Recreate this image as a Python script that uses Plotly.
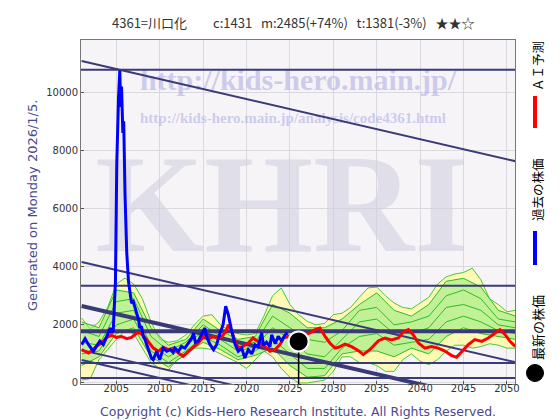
import plotly.graph_objects as go

# ---------------- data ----------------
price_years = [2001.0, 2001.4, 2001.8, 2002.35, 2002.7, 2003.1, 2003.5, 2003.9, 2004.3, 2004.5, 2004.65,
               2004.9, 2005.05, 2005.25, 2005.4, 2005.5, 2005.6, 2005.75, 2005.85, 2006.0, 2006.2, 2006.4,
               2006.6, 2006.75, 2006.95, 2007.15, 2007.35, 2007.55, 2007.7, 2007.9, 2008.1, 2008.3, 2008.5,
               2008.7, 2008.9, 2009.05, 2009.25, 2009.45, 2009.65, 2009.85, 2010.0, 2010.2, 2010.4, 2010.8,
               2011.2, 2011.55, 2011.75, 2012.15, 2012.5, 2012.9, 2013.3, 2013.7, 2013.9, 2014.1, 2014.45,
               2014.85, 2015.2, 2015.4, 2015.8, 2016.2, 2016.55, 2016.95, 2017.3, 2017.6, 2017.75, 2017.9,
               2018.3, 2018.7, 2019.05, 2019.45, 2019.8, 2020.2, 2020.6, 2021.0, 2021.35, 2021.75, 2021.95,
               2022.3, 2022.7, 2022.9, 2023.3, 2023.65, 2024.05, 2024.45, 2024.75]
price_values = [1318, 1520, 1318, 1090, 1260, 1440, 1318, 1605, 1890, 1720, 1835,
                3500, 7500, 9800, 10750, 9500, 10200, 8600, 9000, 6500, 4500, 3500,
                3000, 2750, 2800, 2580, 2350, 2200, 1890, 1950, 1600, 1500, 1318,
                1150, 975, 850, 800, 950, 1090, 900, 800, 1000, 1200, 1090,
                1150, 1050, 1200, 1090, 1260, 1200, 1376, 1548, 1720, 1400, 1450,
                1660, 1890, 1600, 1318, 1145, 1318, 1720, 2005, 2640, 2500, 2350,
                1778, 1318, 1090, 1200, 860, 1150, 1000, 1318, 1250, 1720, 1300,
                1400, 1250, 1660, 1350, 1605, 1450, 1660, 1720]

ai_years = [2001.0, 2001.8, 2002.15, 2002.7, 2003.3, 2003.9, 2004.45, 2005.0, 2005.6, 2006.2, 2006.75,
            2007.35, 2007.7, 2008.1, 2008.5, 2008.9, 2009.25, 2009.85, 2010.4, 2011.0, 2011.55, 2012.15,
            2012.7, 2013.3, 2013.85, 2014.45, 2015.0, 2015.6, 2016.2, 2016.75, 2017.3, 2017.7, 2017.9,
            2018.3, 2018.7, 2019.05, 2019.6, 2020.2, 2020.75, 2021.35, 2022.1, 2022.7, 2023.3, 2023.85,
            2024.25, 2024.8, 2025.5, 2026.3, 2027.3, 2027.9, 2028.45, 2029.05, 2029.6, 2030.2, 2030.6,
            2031.35, 2032.1, 2032.9, 2033.45, 2034.2, 2035.2, 2035.95, 2036.7, 2037.5, 2038.05, 2038.65,
            2039.2, 2039.8, 2040.55, 2041.3, 2042.1, 2042.85, 2043.6, 2044.2, 2044.8, 2045.55, 2046.3,
            2047.1, 2047.85, 2048.6, 2049.2, 2049.8, 2050.35, 2050.95]
ai_values = [1145, 1030, 1100, 1260, 1376, 1570, 1640, 1570, 1600, 1525, 1570,
             1720, 1720, 1640, 1490, 1318, 1203, 1090, 1230, 1150, 1200, 1030,
             918, 1090, 1230, 1376, 1570, 1520, 1600, 1520, 1640, 1835, 2005,
             1778, 1433, 1203, 1260, 1376, 1548, 1430, 1260, 1090, 1150, 1318,
             1548, 1600, 1650, 1600, 1720, 1835, 1890, 1605, 1376, 1200, 1228,
             1340, 1250, 1112, 975, 1145, 1456, 1548, 1480, 1548, 1755, 1835,
             1660, 1376, 1200, 1250, 1200, 1100, 950, 884, 1090, 1318, 1490,
             1430, 1548, 1720, 1835, 1660, 1433, 1260]

latest_year = [2026.0]
latest_price = [1431]

band_years = list(range(2001, 2052))
band_upper = [2236, 1850, 2100, 2600, 3400, 3610, 3400, 2900, 2100, 1500, 1400, 1450, 1650, 2000, 2300,
              2350, 2000, 1800, 1700, 1650, 1700, 2300, 3000, 3270, 2700, 2350, 2120, 2000, 2050, 2350,
              2400, 2600, 2950, 3270, 3300, 3000, 2750, 2600, 2550, 2750, 2950, 3400, 3650, 3750, 3800,
              3950, 3550, 2900, 2700, 2450, 2500]
band_lower = [100, 150, 800, 1150, 1500, 1800, 1700, 1200, 700, 500, 450, 800, 950, 1200, 1200,
              1150, 1000, 850, 700, 500, 800, 1100, 900, 500, 200, 0, 0, 50, 100, 400,
              900, 900, 700, 700, 600, 400, 400, 800, 1000, 750, 630, 800, 1100, 1300, 1300,
              1200, 1250, 1350, 1300, 1200, 1200]

sim_years = list(range(2001, 2052, 2))
sim_1 = [2100, 1900, 3200, 3100, 1900, 1300, 1500, 2200, 1800, 1500, 1600, 2700, 2400, 1900, 1900,
         2200, 2700, 3100, 2500, 2300, 2700, 3500, 3600, 3300, 2500, 2300]
sim_2 = [1800, 1600, 2800, 2900, 1600, 1100, 1400, 2000, 1600, 1300, 1400, 2300, 1900, 1500, 1400,
         1800, 2500, 2600, 2000, 2100, 2300, 3000, 3200, 2900, 2200, 2100]
sim_3 = [1400, 1300, 2400, 2500, 1300, 900, 1250, 1800, 1500, 1100, 1250, 1900, 1500, 1000, 900,
         1500, 2100, 2200, 1700, 1700, 1900, 2600, 2700, 2500, 2000, 1900]
sim_4 = [1000, 1100, 2000, 2200, 1100, 700, 1100, 1600, 1300, 900, 1100, 1500, 1000, 500, 500,
         1200, 1600, 1700, 1300, 1400, 1500, 2100, 2300, 2100, 1800, 1700]
sim_5 = [600, 900, 1700, 1900, 900, 550, 1000, 1400, 1150, 800, 950, 1200, 600, 200, 250,
         1000, 1100, 1100, 900, 1200, 1000, 1600, 1900, 1700, 1600, 1500]

trend_start_year = 2001
trend_end_year = 2051
trend_slope = -69.0          # per year
trend_start_values = [11077, 4162, 2650, 1130, 791]
trend_widths = [2, 2, 4, 2, 2]

level_values = [10778, 3347, 1778, 688, 172]
level_widths = [2, 2, 4, 2, 2]

x_ticks = [2005, 2010, 2015, 2020, 2025, 2030, 2035, 2040, 2045, 2050]
y_ticks = [0, 2000, 4000, 6000, 8000, 10000]
y_tick_labels = ["0", "2000", "4000", "6000", "8000", "10000"]

X_RANGE = [2000.93, 2050.93]
Y_RANGE = [-35, 11800]

# ---------------- layout geometry ----------------
W, H = 560, 420
L, R, T, B = 73, 53, 32, 44
PW, PH = W - L - R, H - T - B


def px(x):
    return (x - L) / PW


def py(y):
    return (H - B - y) / PH


def dx(fx):
    return X_RANGE[0] + fx * (X_RANGE[1] - X_RANGE[0])


def dy(fy):
    return Y_RANGE[0] + fy * (Y_RANGE[1] - Y_RANGE[0])


NAVY = "#3b3a78"
fig = go.Figure()

# watermark (drawn beneath data)
wm = [
    ("<b>http://kids-hero.main.jp/</b>", 290, 74, 30, "rgba(175,175,228,0.6)"),
    ("<b>http://kids-hero.main.jp/analysis/code4361.html</b>", 285, 111, 15, "rgba(175,175,228,0.6)"),
    ("<b>KHRI</b>", 274, 208, 140, "rgba(208,208,224,0.6)"),
]
for txt, x, y, s, c in wm:
    fig.add_trace(go.Scatter(x=[dx(px(x))], y=[dy(py(y))], mode="text", text=[txt],
                             textfont=dict(family="Liberation Serif", size=s, color=c),
                             textposition="middle center", hoverinfo="skip", showlegend=False))

# outer band (yellow)
fig.add_trace(go.Scatter(x=band_years + band_years[::-1], y=band_upper + band_lower[::-1],
                         fill="toself", fillcolor="rgba(255,250,170,0.85)",
                         line=dict(color="#44cc33", width=1), mode="lines",
                         hoverinfo="skip", showlegend=False))
# inner band (green)
fig.add_trace(go.Scatter(x=sim_years + sim_years[::-1], y=sim_1 + sim_5[::-1],
                         fill="toself", fillcolor="rgba(150,235,130,0.6)",
                         line=dict(color="#33bb22", width=1), mode="lines",
                         hoverinfo="skip", showlegend=False))
for s in (sim_2, sim_3, sim_4):
    fig.add_trace(go.Scatter(x=sim_years, y=s, mode="lines", line=dict(color="#33bb22", width=1),
                             hoverinfo="skip", showlegend=False))

# horizontal levels
for v, w in zip(level_values, level_widths):
    fig.add_trace(go.Scatter(x=X_RANGE, y=[v, v], mode="lines", line=dict(color=NAVY, width=w),
                             hoverinfo="skip", showlegend=False))
# trend channel
for v, w in zip(trend_start_values, trend_widths):
    fig.add_trace(go.Scatter(x=[trend_start_year, trend_end_year],
                             y=[v, v + trend_slope * (trend_end_year - trend_start_year)],
                             mode="lines", line=dict(color=NAVY, width=w),
                             hoverinfo="skip", showlegend=False))

fig.add_trace(go.Scatter(x=ai_years, y=ai_values, mode="lines", line=dict(color="#ff0000", width=3),
                         showlegend=False))
fig.add_trace(go.Scatter(x=price_years, y=price_values, mode="lines", line=dict(color="#0000ff", width=3),
                         showlegend=False))
fig.add_trace(go.Scatter(x=latest_year * 2, y=[Y_RANGE[0], latest_price[0]], mode="lines",
                         line=dict(color="#000000", width=1.5), showlegend=False))
fig.add_trace(go.Scatter(x=latest_year, y=latest_price, mode="markers",
                         marker=dict(color="#000000", size=20, line=dict(color="white", width=2)),
                         showlegend=False))

ann = []
ann.append(dict(text="4361=川口化　　c:1431   m:2485(+74%)   t:1381(-3%)   ★★☆", x=px(285), y=py(15),
                font=dict(family="Noto Sans CJK JP", size=13, color="#333333")))
ann.append(dict(text="Generated on Monday 2026/1/5.", x=px(24), y=py(198), textangle=-90,
                font=dict(family="DejaVu Sans", size=13, color="#4a4a8c")))
ann.append(dict(text="Copyright (c) Kids-Hero Research Institute. All Rights Reserved.", x=px(290),
                y=py(403), font=dict(family="DejaVu Sans", size=12.5, color="#4a4a8c")))
ann.append(dict(text="ＡＩ予測", x=px(529), y=py(58), textangle=-90,
                font=dict(family="Noto Sans CJK JP", size=12.5, color="#000")))
ann.append(dict(text="過去の株価", x=px(529), y=py(182), textangle=-90,
                font=dict(family="Noto Sans CJK JP", size=12.5, color="#000")))
ann.append(dict(text="最新の株価", x=px(529), y=py(320), textangle=-90,
                font=dict(family="Noto Sans CJK JP", size=13, color="#000")))
for a in ann:
    a.update(xref="paper", yref="paper", showarrow=False, xanchor="center", yanchor="middle")

shapes = [
    dict(type="line", xref="paper", yref="paper", x0=px(527), x1=px(527), y0=py(88), y1=py(120),
         line=dict(color="#ff0000", width=4)),
    dict(type="line", xref="paper", yref="paper", x0=px(527), x1=px(527), y0=py(223), y1=py(257),
         line=dict(color="#0000ff", width=4)),
    dict(type="circle", xref="paper", yref="paper", x0=px(518.5), x1=px(535.5), y0=py(356.5),
         y1=py(373.5), fillcolor="#000", line=dict(color="#000", width=1)),
]

fig.update_layout(
    width=W, height=H, margin=dict(l=L, r=R, t=T, b=B),
    paper_bgcolor="white", plot_bgcolor="#f7f4f8",
    annotations=ann, shapes=shapes, showlegend=False,
    xaxis=dict(range=X_RANGE, tickvals=x_ticks, showgrid=True, gridcolor="#d9d9df", gridwidth=1,
               zeroline=False, showline=True, linecolor="#777", mirror=True, ticks="inside",
               ticklen=3, tickcolor="#555", ticklabelstandoff=-5,
               tickfont=dict(family="DejaVu Sans", size=10, color="#333")),
    yaxis=dict(range=Y_RANGE, tickvals=y_ticks, ticktext=y_tick_labels, showgrid=True,
               gridcolor="#d9d9df", gridwidth=1,
               zeroline=False, showline=True, linecolor="#777", mirror=True, ticks="inside",
               ticklen=3, tickcolor="#555", tickfont=dict(family="DejaVu Sans", size=10, color="#333")),
)

fig.write_html("out.html")
